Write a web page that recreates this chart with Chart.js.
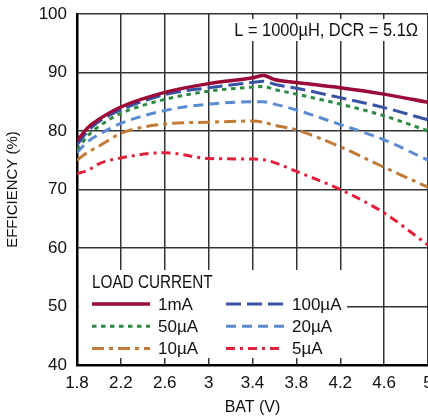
<!DOCTYPE html>
<html>
<head>
<meta charset="utf-8">
<script src="https://cdn.jsdelivr.net/npm/chart.js@4.4.1/dist/chart.umd.min.js"></script>
<style>
  html, body { margin: 0; padding: 0; background: #fff; }
  #wrap { width: 428px; height: 417px; }
</style>
</head>
<body>
<div id="wrap"><canvas id="grafico-eficiencia"></canvas></div>
<script>
// battery voltage (V)
const batV = [1.8, 1.9, 2.0, 2.2, 2.6, 3.0, 3.4, 3.5, 3.6, 3.8, 4.2, 4.6, 5.0];

// efficiency (%) per load current
const ef1mA   = [78.3, 80.6, 82.0, 84.1, 86.6, 88.1, 89.1, 89.5, 88.8, 88.3, 87.4, 86.3, 84.9];
const ef100uA = [77.6, 80.0, 81.6, 83.6, 86.2, 87.4, 88.3, 88.5, 88.0, 87.3, 85.7, 84.0, 81.9];
const ef50uA  = [76.8, 79.2, 80.8, 83.0, 85.4, 86.8, 87.5, 87.6, 87.1, 86.3, 84.6, 82.6, 80.0];
const ef20uA  = [76.3, 78.2, 79.4, 81.3, 83.5, 84.6, 85.0, 85.0, 84.6, 83.6, 81.1, 78.5, 75.0];
const ef10uA  = [75.0, 76.4, 77.4, 79.6, 81.2, 81.5, 81.7, 81.5, 81.0, 80.2, 77.3, 73.8, 70.4];
const ef5uA   = [72.7, 73.3, 74.4, 75.4, 76.3, 75.3, 75.2, 75.1, 74.6, 73.1, 70.0, 66.0, 60.5];

const xTicks = [1.8, 2.2, 2.6, 3, 3.4, 3.8, 4.2, 4.6, 5];
const yTicks = [40, 50, 60, 70, 80, 90, 100];

const fonte = '"Liberation Sans Narrow", "Liberation Sans", Arial, sans-serif';

function serie(valores) {
  return valores.map((v, i) => ({ x: batV[i], y: v }));
}

function linha(label, valores, cor, tracejado, largura) {
  return {
    label: label,
    data: serie(valores),
    borderColor: cor,
    backgroundColor: cor,
    borderWidth: largura,
    borderDash: tracejado,
    pointRadius: 0,
    fill: false,
    cubicInterpolationMode: 'monotone'
  };
}

// texto um pouco condensado (fonte do original e estreita)
function textoEstreito(ctx, texto, x, y, escala) {
  ctx.save();
  ctx.translate(x, y);
  ctx.scale(escala, 1);
  ctx.fillText(texto, 0, 0);
  ctx.restore();
}

// legenda e anotacao desenhadas dentro da area do grafico
const legendaInterna = {
  id: 'legendaInterna',
  beforeDatasetsDraw(chart) {
    const ctx = chart.ctx;
    const area = chart.chartArea;
    ctx.save();
    ctx.fillStyle = '#fff';
    ctx.fillRect(area.left + 2, area.top + 256, 268, 88);
    ctx.fillRect(area.left + 155, area.top + 5, 188, 22);

    ctx.fillStyle = '#111';
    ctx.font = '18px ' + fonte;
    ctx.textBaseline = 'middle';
    ctx.textAlign = 'right';
    textoEstreito(ctx, 'L = 1000\u00b5H, DCR = 5.1\u03a9', area.left + 341, area.top + 17, 0.91);

    ctx.textAlign = 'left';
    textoEstreito(ctx, 'LOAD CURRENT', area.left + 15, area.top + 269, 0.85);

    ctx.font = '17px ' + fonte;
    chart.data.datasets.forEach((ds, i) => {
      const col = i % 2;
      const row = Math.floor(i / 2);
      const x0 = area.left + 15 + col * 134;
      const y0 = area.top + 290 + row * 22.3;
      ctx.beginPath();
      ctx.strokeStyle = ds.borderColor;
      ctx.lineWidth = ds.borderWidth;
      ctx.setLineDash(ds.borderDash || []);
      ctx.moveTo(x0, y0);
      ctx.lineTo(x0 + 58, y0);
      ctx.stroke();
      ctx.setLineDash([]);
      ctx.fillStyle = '#111';
      ctx.fillText(ds.label, x0 + 66, y0 + 1);
    });
    ctx.restore();
  }
};

const ctxEf = document.getElementById('grafico-eficiencia').getContext('2d');

const chartEf = new Chart(ctxEf, {
  type: 'line',
  data: {
    datasets: [
      linha('1mA', ef1mA, '#9a0b37', [], 3.5),
      linha('100\u00b5A', ef100uA, '#3852a4', [15, 6], 3),
      linha('50\u00b5A', ef50uA, '#2f8a46', [4.5, 4.5], 3),
      linha('20\u00b5A', ef20uA, '#5a8bd0', [10, 6], 3),
      linha('10\u00b5A', ef10uA, '#c27b37', [12, 5, 4, 5], 3),
      linha('5\u00b5A', ef5uA, '#e2203a', [9, 5, 3, 5], 3)
    ]
  },
  options: {
    responsive: true,
    maintainAspectRatio: false,
    animation: false,
    layout: {
      padding: { left: 0, right: -2, top: 14, bottom: 0 }
    },
    plugins: {
      legend: { display: false },
      tooltip: { enabled: false }
    },
    scales: {
      x: {
        type: 'linear',
        min: 1.8,
        max: 5,
        afterBuildTicks: scale => { scale.ticks = xTicks.map(v => ({ value: v })); },
        afterFit: scale => {
          scale.height = 52;
          scale.paddingLeft = 0;
          scale.paddingRight = 0;
        },
        grid: { color: '#333', lineWidth: 1.5, drawTicks: false },
        border: { color: '#000', width: 2.5 },
        ticks: {
          color: '#111',
          padding: 8,
          maxRotation: 0,
          font: { family: fonte, size: 17 },
          callback: v => String(v)
        },
        title: {
          display: true,
          text: 'BAT (V)',
          color: '#111',
          padding: { top: 2, bottom: 0 },
          font: { family: fonte, size: 16 }
        }
      },
      y: {
        min: 40,
        max: 100,
        afterBuildTicks: scale => { scale.ticks = yTicks.map(v => ({ value: v })); },
        afterFit: scale => {
          scale.width = 77;
          scale.paddingTop = 0;
          scale.paddingBottom = 0;
        },
        grid: { color: '#333', lineWidth: 1.5, drawTicks: false },
        border: { color: '#000', width: 2.5 },
        ticks: {
          color: '#111',
          padding: 10,
          font: { family: fonte, size: 17 }
        },
        title: {
          display: true,
          text: 'EFFICIENCY (%)',
          color: '#111',
          padding: { top: 4, bottom: 4 },
          font: { family: fonte, size: 15 }
        }
      }
    }
  },
  plugins: [legendaInterna]
});
</script>
</body>
</html>
